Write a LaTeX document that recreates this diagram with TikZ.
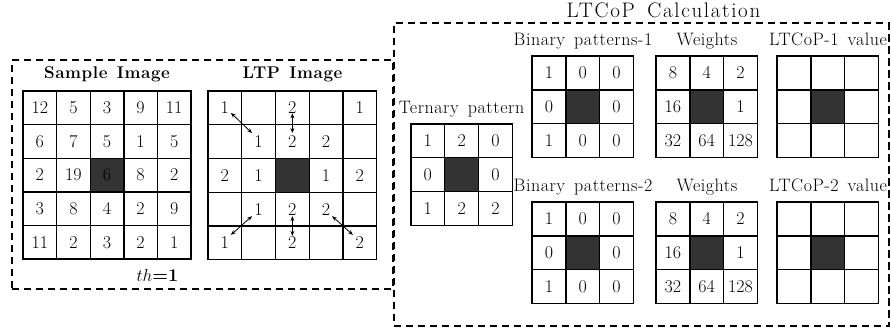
\documentclass[tikz,border=0pt]{standalone}
\usepackage{fontspec}
\setmainfont{Latin Modern Roman}
\usetikzlibrary{arrows.meta}
\newcommand\wsp{\hspace{0.5em}}
\tikzset{
  cell/.style={draw, line width=1.4pt, inner sep=0pt, outer sep=0pt, minimum size=#1, font=\fontsize{18}{20}\selectfont},
  cell/.default=33.7pt,
  dashbox/.style={draw, line width=1.2pt, dash pattern=on 7pt off 5pt},
  lbl/.style={anchor=base, inner sep=0pt, font=\fontsize{18}{20}\selectfont\addfontfeatures{LetterSpace=3}},
  blbl/.style={anchor=base, inner sep=0pt, font=\fontsize{17}{20}\selectfont\bfseries\addfontfeatures{LetterSpace=3.5}},
  ttl/.style={anchor=base, inner sep=0pt, font=\fontsize{21}{24}\selectfont\addfontfeatures{LetterSpace=8}},
  darr/.style={{Stealth[length=5pt,width=4pt]}-{Stealth[length=5pt,width=4pt]}, line width=0.8pt}
}
% name, left, top, cell size, rows
\newcommand\mygrid[5]{%
  \foreach \row [count=\r from 0] in {#5} {
    \foreach \v [count=\c from 0] in \row {
      \node[cell=#4pt] (#1-\r-\c) at ({#2+#4*\c+#4/2}, {#3+#4*\r+#4/2}) {\v};
    }
  }
}
\begin{document}
\begin{tikzpicture}[x=1pt,y=-1pt]
\useasboundingbox (0,0) rectangle (891,333);

% left dashed box and LTCoP dashed box
\node[dashbox, minimum width=381pt, minimum height=229pt, inner sep=0pt, outer sep=0pt] (leftbox) at (202.5,174.5) {};
\node[dashbox, minimum width=495pt, minimum height=303pt, inner sep=0pt, outer sep=0pt] (calcbox) at (641.5,174.5) {};

% titles
\node[ttl] (title) at (663.5,17.5) {LTCoP\hspace{0.6em}Calculation};
\node[blbl] (samplelbl) at (107,78) {Sample\hspace{0.55em}Image};
\node[blbl] (ltplbl) at (292.5,78) {LTP\hspace{0.55em}Image};
\node[anchor=base, inner sep=0pt, font=\fontsize{18}{20}\selectfont] (th) at (157.5,281) {$th$\textbf{=1}};

% Sample image grid
\mygrid{s}{23}{91}{33.6}{{12,5,3,9,11},{6,7,5,1,5},{2,19,,8,2},{3,8,4,2,9},{11,2,3,2,1}}
\node[cell=33.6pt, fill=black!80] (s-c) at (s-2-2) {6};

% LTP grid
\mygrid{l}{208}{91}{33.75}{{1,,2,,1},{,1,2,2,},{2,1,,1,2},{,1,2,2,},{1,,2,,2}}
\node[cell=33.75pt, fill=black!80] (l-c) at (l-2-2) {};
\draw[darr] ([shift={(6,5)}]l-0-0.center) -- ([shift={(-6.6,-8.6)}]l-1-1.center);
\draw[darr] ([shift={(0,5.5)}]l-0-2.center) -- ([shift={(0,-8.6)}]l-1-2.center);
\draw[darr] ([shift={(-6.6,7)}]l-3-1.center) -- ([shift={(6,-8)}]l-4-0.center);
\draw[darr] ([shift={(0,7)}]l-3-2.center) -- ([shift={(0,-7)}]l-4-2.center);
\draw[darr] ([shift={(6,7)}]l-3-3.center) -- ([shift={(-7,-8)}]l-4-4.center);

% Ternary pattern
\node[lbl] (ternlbl) at (461.5,113) {Ternary\wsp pattern};
\mygrid{t}{411}{124}{33.75}{{1,2,0},{0,,0},{1,2,2}}
\node[cell=33.75pt, fill=black!80] (t-c) at (t-1-1) {};

% Row 1
\node[lbl] (b1lbl) at (583,45) {Binary\wsp patterns-1};
\mygrid{ba}{532}{56}{33.8}{{1,0,0},{0,,0},{1,0,0}}
\node[cell=33.8pt, fill=black!80] (ba-c) at (ba-1-1) {};
\node[lbl] (w1lbl) at (707,45) {Weights};
\mygrid{wa}{656}{56}{33.8}{{8,4,2},{16,,1},{32,64,128}}
\node[cell=33.8pt, fill=black!80] (wa-c) at (wa-1-1) {};
\node[lbl] (v1lbl) at (828,45) {LTCoP-1\wsp value};
\mygrid{va}{777}{56}{33.8}{{,,},{,,},{,,}}
\node[cell=33.8pt, fill=black!80] (va-c) at (va-1-1) {};

% Row 2
\node[lbl] (b2lbl) at (583,191) {Binary\wsp patterns-2};
\mygrid{bb}{532}{202}{33.8}{{1,0,0},{0,,0},{1,0,0}}
\node[cell=33.8pt, fill=black!80] (bb-c) at (bb-1-1) {};
\node[lbl] (w2lbl) at (707,191) {Weights};
\mygrid{wb}{656}{202}{33.8}{{8,4,2},{16,,1},{32,64,128}}
\node[cell=33.8pt, fill=black!80] (wb-c) at (wb-1-1) {};
\node[lbl] (v2lbl) at (828,191) {LTCoP-2\wsp value};
\mygrid{vb}{777}{202}{33.8}{{,,},{,,},{,,}}
\node[cell=33.8pt, fill=black!80] (vb-c) at (vb-1-1) {};

% redraw right edge of calc box over the label text
\draw[dashbox] (calcbox.north east) -- (calcbox.south east);
\end{tikzpicture}
\end{document}
